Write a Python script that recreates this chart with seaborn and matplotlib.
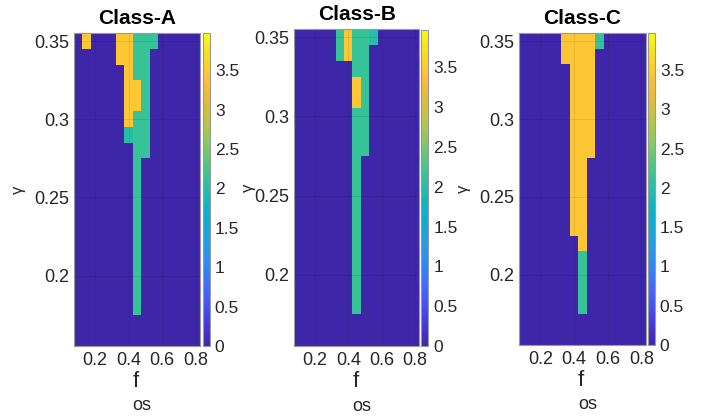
import numpy as np
import pandas as pd
import matplotlib
matplotlib.use("Agg")
import matplotlib.pyplot as plt
import seaborn as sns
from matplotlib.colors import LinearSegmentedColormap

# ---------------- data ----------------
F_OS = [0.10, 0.15, 0.20, 0.25, 0.30, 0.35, 0.40, 0.45,
        0.50, 0.55, 0.60, 0.65, 0.70, 0.75, 0.80]
GAMMA = [0.35, 0.34, 0.33, 0.32, 0.31, 0.30, 0.29, 0.28, 0.27, 0.26,
         0.25, 0.24, 0.23, 0.22, 0.21, 0.20, 0.19, 0.18, 0.17, 0.16]

# cell codes -> values
LEVELS = {'.': 0.0, 't': 2.0, 'g': 2.15, 'y': 3.45}

CLASS_A = [
    ".y...yyggg.....",
    ".....yygg......",
    "......ygg......",
    "......yyg......",
    "......yyg......",
    "......ygg......",
    "......tgg......",
    ".......gg......",
    ".......g.......",
    ".......g.......",
    ".......g.......",
    ".......g.......",
    ".......g.......",
    ".......g.......",
    ".......g.......",
    ".......g.......",
    ".......g.......",
    ".......g.......",
    "...............",
    "...............",
]
CLASS_B = [
    ".....gyggt.....",
    ".....gygg......",
    ".......gg......",
    ".......yg......",
    ".......yg......",
    ".......gg......",
    ".......gg......",
    ".......gg......",
    ".......g.......",
    ".......g.......",
    ".......g.......",
    ".......g.......",
    ".......g.......",
    ".......g.......",
    ".......g.......",
    ".......g.......",
    ".......g.......",
    ".......g.......",
    "...............",
    "...............",
]
CLASS_C = [
    ".....yyyyg.....",
    ".....yyyy......",
    "......yyy......",
    "......yyy......",
    "......yyy......",
    "......yyy......",
    "......yyy......",
    "......yyy......",
    "......yy.......",
    "......yy.......",
    "......yy.......",
    "......yy.......",
    "......yy.......",
    ".......y.......",
    ".......g.......",
    ".......g.......",
    ".......g.......",
    ".......g.......",
    "...............",
    "...............",
]
TITLES = ["Class-A", "Class-B", "Class-C"]
X_TICKS = [0.2, 0.4, 0.6, 0.8]
X_TICK_LABELS = ["0.2", "0.4", "0.6", "0.8"]
Y_TICKS = [0.2, 0.25, 0.3, 0.35]
Y_TICK_LABELS = ["0.2", "0.25", "0.3", "0.35"]
CB_TICKS = [0, 0.5, 1, 1.5, 2, 2.5, 3, 3.5]
CB_TICK_LABELS = ["0", "0.5", "1", "1.5", "2", "2.5", "3", "3.5"]
VMIN, VMAX = 0.0, 3.97

# ---------------- style ----------------
sns.set_style("white")
plt.rcParams['font.family'] = ['Liberation Sans', 'DejaVu Sans']
TXT = '#262626'

parula_pts = [
    (0.000, (0.2422, 0.1504, 0.6603)),
    (0.050, (0.2637, 0.2045, 0.8050)),
    (0.100, (0.2783, 0.2743, 0.9207)),
    (0.150, (0.2758, 0.3543, 0.9802)),
    (0.200, (0.2349, 0.4440, 0.9965)),
    (0.250, (0.1802, 0.5270, 0.9724)),
    (0.300, (0.1540, 0.5902, 0.9218)),
    (0.350, (0.1055, 0.6432, 0.8751)),
    (0.400, (0.0337, 0.6867, 0.8225)),
    (0.450, (0.0383, 0.7161, 0.7518)),
    (0.500, (0.1412, 0.7441, 0.6652)),
    (0.550, (0.2256, 0.7709, 0.5758)),
    (0.600, (0.3689, 0.7889, 0.4826)),
    (0.650, (0.5289, 0.7905, 0.3871)),
    (0.700, (0.6771, 0.7796, 0.3022)),
    (0.750, (0.8070, 0.7569, 0.2401)),
    (0.800, (0.9185, 0.7304, 0.2258)),
    (0.850, (0.9932, 0.7432, 0.2395)),
    (0.900, (0.9806, 0.8225, 0.1667)),
    (0.950, (0.9620, 0.9011, 0.1150)),
    (1.000, (0.9763, 0.9831, 0.0538)),
]
parula = LinearSegmentedColormap.from_list("parula", parula_pts, N=256)

W, H = 712, 418
fig = plt.figure(figsize=(W / 100, H / 100), dpi=100)


def box(l, t, r, b):
    return [l / W, 1 - b / H, (r - l) / W, (b - t) / H]


AX_BOXES = [(74, 33.3, 200, 346), (294, 29.3, 419.3, 346), (519.3, 33.3, 645.7, 345)]
CB_BOXES = [(202.7, 33.3, 210, 346), (421, 30, 428.3, 346), (647.7, 33.3, 655, 345)]
YLAB_X = [-0.38, -0.30, -0.38]

gam_inc = np.array(GAMMA[::-1])
xpos = np.interp(X_TICKS, F_OS, np.arange(len(F_OS))) + 0.5
ypos = (len(GAMMA) - 1 - np.interp(Y_TICKS, gam_inc, np.arange(len(GAMMA)))) + 0.5

for k, (grid, title) in enumerate(zip([CLASS_A, CLASS_B, CLASS_C], TITLES)):
    df = pd.DataFrame([[LEVELS[c] for c in row] for row in grid],
                      index=GAMMA, columns=F_OS)
    ax = fig.add_axes(box(*AX_BOXES[k]))
    cax = fig.add_axes(box(*CB_BOXES[k]))
    sns.heatmap(df, ax=ax, cmap=parula, vmin=VMIN, vmax=VMAX, cbar_ax=cax,
                xticklabels=False, yticklabels=False, linewidths=0)
    ax.set_xticks(xpos)
    ax.set_xticklabels(X_TICK_LABELS, rotation=0)
    ax.set_yticks(ypos)
    ax.set_yticklabels(Y_TICK_LABELS, rotation=0)
    ax.tick_params(axis='both', direction='in', length=3, width=0.5,
                   color='#555555', labelsize=13, labelcolor=TXT, pad=3.5)
    ax.tick_params(axis='x', pad=4.5)
    ax.grid(True, color='black', alpha=0.09, linewidth=0.6)
    ax.set_axisbelow(False)
    for s in ax.spines.values():
        s.set_visible(True)
        s.set_color('#9a9a9a')
        s.set_linewidth(0.8)
    ax.set_xlabel("")
    ax.set_ylabel("γ", fontsize=12, color=TXT, rotation=90)
    ax.yaxis.set_label_coords(YLAB_X[k], 0.5)
    ax.set_title(title, fontsize=15, fontweight='bold', color='black', pad=7)
    # x label f_os (MATLAB-like subscript)
    ax.text(0.49, -0.113, "f", transform=ax.transAxes, ha='center', va='center',
            fontsize=16, color=TXT)
    ax.text(0.54, -0.19, "os", transform=ax.transAxes, ha='center', va='center',
            fontsize=13, color=TXT)

    cb = ax.collections[0].colorbar
    cb.set_ticks(CB_TICKS)
    cb.set_ticklabels(CB_TICK_LABELS)
    cb.outline.set_edgecolor('#9a9a9a')
    cb.outline.set_linewidth(0.8)
    cax.tick_params(direction='in', length=2.5, width=0.5, color='#555555',
                    labelsize=12.5, labelcolor=TXT, pad=3.5)

fig.savefig("out.png", dpi=100)
